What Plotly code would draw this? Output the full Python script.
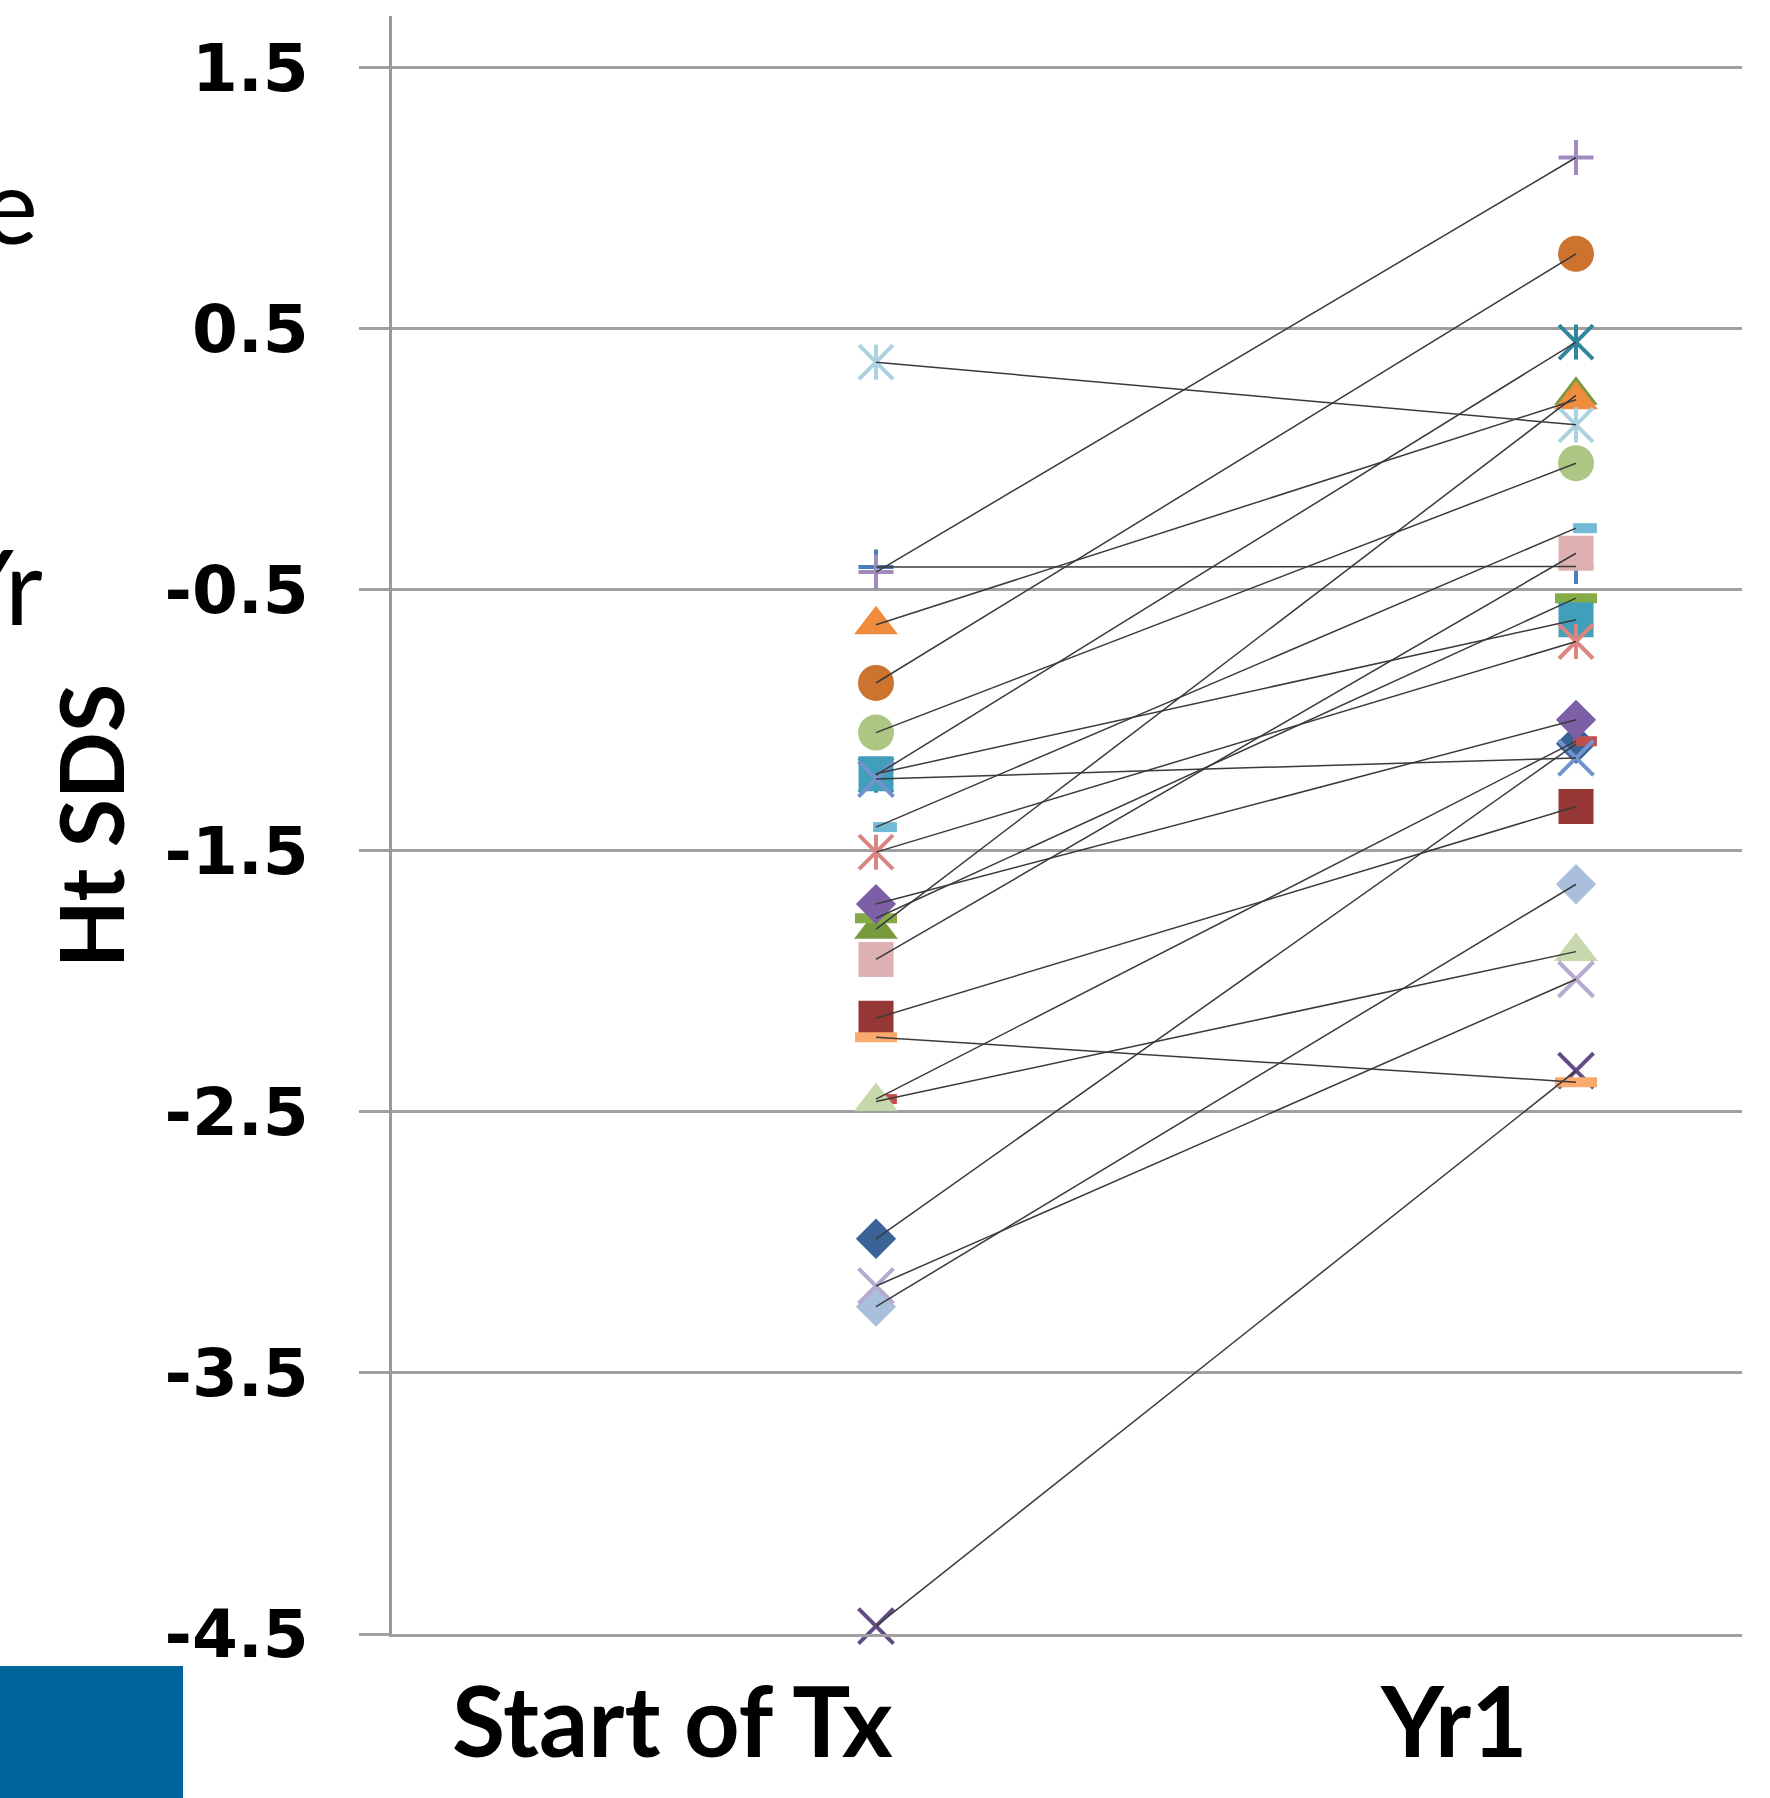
import plotly.graph_objects as go

# ---------------- data ----------------
timepoint_labels = ["Start of Tx", "Yr1"]
timepoint_x = [0, 1]

start_sds = [-2.986, -2.141, -1.800, -4.470, -1.210, -0.857, -0.413, -2.451,
             -1.758, -1.704, -1.205, -0.634, -1.225, -1.505, -1.047, -0.432,
             -1.409, -2.214, -3.246, -1.916, -2.460, -3.167, 0.372]
yr1_sds = [-1.090, -1.330, 0.245, -2.342, 0.449, 0.787, -0.411, -1.080,
           -0.532, -0.998, -0.615, 0.228, -1.144, -0.698, -0.015, 1.156,
           -0.264, -2.386, -1.628, -0.360, -1.886, -1.992, 0.132]

ytick_vals = [1.5, 0.5, -0.5, -1.5, -2.5, -3.5, -4.5]
ytick_text = ["1.5", "0.5", "-0.5", "-1.5", "-2.5", "-3.5", "-4.5"]

# ---------------- styles ----------------
marker_colors = ["#3A6498", "#953735", "#779B3C", "#634C86", "#31859C", "#CC7330",
                 "#4A7DBF", "#C0504D", "#86AB46", "#7C5FA4", "#429FBB", "#F08C3E",
                 "#7393CF", "#D98683", "#ADC684", "#A08BC0", "#72BAD5", "#F9AA6C",
                 "#AABFDC", "#DDB1B1", "#C7D9AC", "#B6ABCE", "#ABD2DE"]
kind_cycle = ["diamond", "square", "triangle", "x", "star", "circle", "plus", "dash", "longdash"]

kind_styles = {
    "diamond": [dict(symbol="diamond", size=31, lw=0)],
    "square": [dict(symbol="square", size=35, lw=0)],
    "triangle": [dict(symbol="triangle-up", size=38, lw=0)],
    "circle": [dict(symbol="circle", size=36, lw=0)],
    "x": [dict(symbol="x-thin-open", size=35, lw=4)],
    "plus": [dict(symbol="cross-thin-open", size=25, lw=4)],
    "star": [dict(symbol="x-thin-open", size=34, lw=4), dict(symbol="line-ns-open", size=25, lw=4)],
    "dash": [dict(symbol="line-ew-open", size=17, lw=10, shift=9)],
    "longdash": [dict(symbol="line-ew-open", size=30, lw=10)],
}

PX_PER_X = 700.0  # pixels per x unit (for the small dash offset)

fig = go.Figure()

for i, (s, e) in enumerate(zip(start_sds, yr1_sds)):
    kind = kind_cycle[i % len(kind_cycle)]
    col = marker_colors[i]
    for st in kind_styles[kind]:
        shift = st.get("shift", 0) / PX_PER_X
        xs = [xv + shift for xv in timepoint_x]
        if st["lw"] == 0:
            mk = dict(symbol=st["symbol"], size=st["size"], color=col, line=dict(width=0))
        else:
            mk = dict(symbol=st["symbol"], size=st["size"], color=col,
                      line=dict(width=st["lw"], color=col))
        fig.add_trace(go.Scatter(x=xs, y=[s, e], mode="markers", marker=mk,
                                 showlegend=False, hoverinfo="skip", cliponaxis=False))

# connecting lines drawn on top
lx, ly = [], []
for s, e in zip(start_sds, yr1_sds):
    lx += [timepoint_x[0], timepoint_x[1], None]
    ly += [s, e, None]
fig.add_trace(go.Scatter(x=lx, y=ly, mode="lines",
                         line=dict(color="#3a3a3a", width=1.5),
                         showlegend=False, hoverinfo="skip"))

W, H = 1770, 1798
ML, MR, MT, MB = 392, 28, 16, 164
plot_w = W - ML - MR
plot_h = H - MT - MB

def px_x(p):
    return (p - ML) / plot_w

def px_y(p):
    return (H - MB - p) / plot_h

fig.update_layout(
    width=W, height=H,
    margin=dict(l=ML, r=MR, t=MT, b=MB, pad=0),
    paper_bgcolor="white", plot_bgcolor="white",
    xaxis=dict(
        range=[-0.6914, 1.2371],
        tickvals=[-0.291, 0.826], ticktext=timepoint_labels,
        ticks="", showgrid=False, zeroline=False,
        showline=True, linecolor="#A0A0A0", linewidth=2.5,
        tickfont=dict(family="Lato", size=97, color="black", weight=700),
        ticklabelstandoff=4,
    ),
    yaxis=dict(
        range=[-4.5, 1.698],
        tickvals=ytick_vals, ticktext=ytick_text,
        ticks="outside", ticklen=30, tickwidth=2.5, tickcolor="#A0A0A0",
        showgrid=True, gridcolor="#A0A0A0", gridwidth=2.5,
        zeroline=False,
        showline=True, linecolor="#999999", linewidth=3,
        tickfont=dict(family="DejaVu Sans", size=66, color="black", weight=700),
        ticklabelstandoff=37,
    ),
    shapes=[dict(type="rect", xref="paper", yref="paper",
                 x0=px_x(-5), x1=px_x(183), y0=px_y(1805), y1=px_y(1666),
                 fillcolor="#00659A", line=dict(width=0), layer="above")],
    annotations=[
        dict(text="Ht SDS", xref="paper", yref="paper", x=px_x(90), y=px_y(826),
             xanchor="center", yanchor="middle", textangle=-90, showarrow=False,
             font=dict(family="Lato", size=88, color="black", weight=700)),
        dict(text="e", xref="paper", yref="paper", x=px_x(40), y=px_y(203),
             xanchor="right", yanchor="middle", showarrow=False,
             font=dict(family="Lato", size=104, color="black")),
        dict(text="Yr", xref="paper", yref="paper", x=px_x(45), y=px_y(584),
             xanchor="right", yanchor="middle", showarrow=False,
             font=dict(family="Lato", size=104, color="black")),
    ],
)

fig.write_html("out.html", config={"displayModeBar": False},
               post_script="document.body.style.margin='0';document.body.style.overflow='hidden';")
